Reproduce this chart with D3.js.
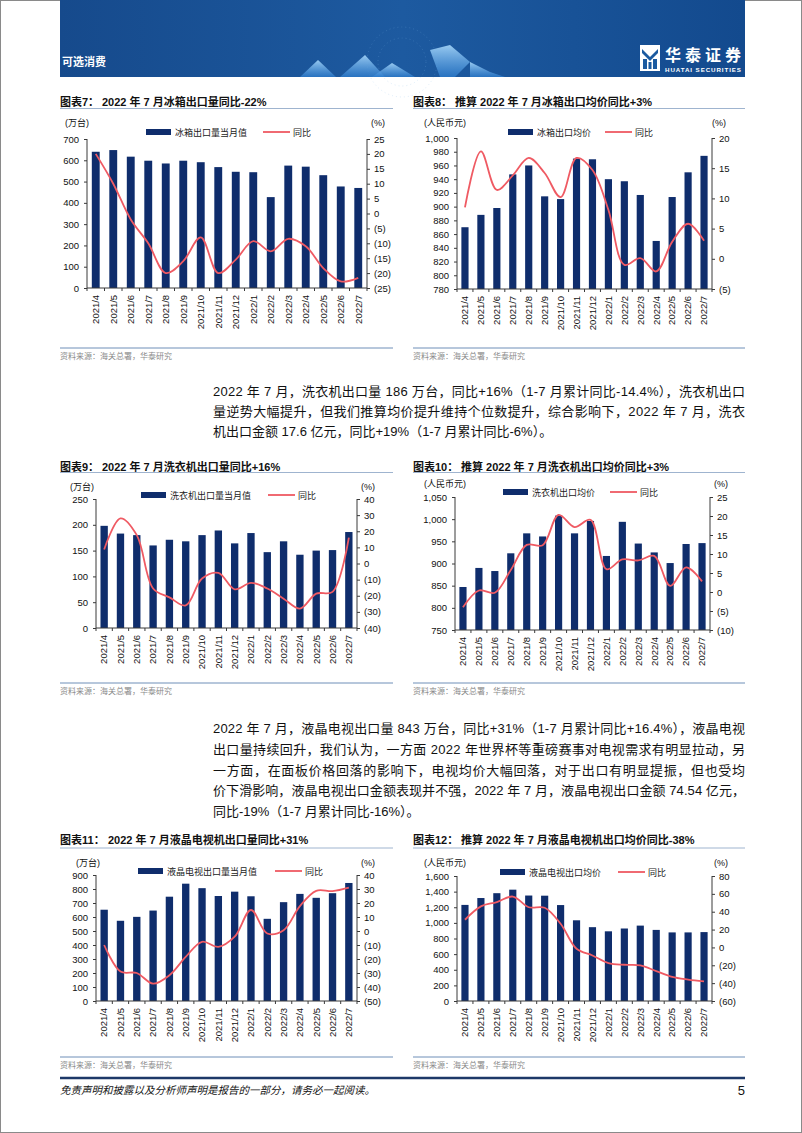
<!DOCTYPE html>
<html><head><meta charset="utf-8">
<script src="https://cdn.jsdelivr.net/npm/d3@7"></script>
<style>body{margin:0;background:#fff}svg{display:block}</style>
</head><body><svg id="page" width="802" height="1133"></svg>
<script>
// ---------------- DATA ----------------
const months = ["2021/4","2021/5","2021/6","2021/7","2021/8","2021/9","2021/10","2021/11","2021/12","2022/1","2022/2","2022/3","2022/4","2022/5","2022/6","2022/7"];

const fridgeVolume    = [640, 648, 617, 598, 585, 598, 591, 568, 546, 544, 427, 575, 570, 530, 477, 470];
const fridgeVolumeYoY = [20, 10, -2, -10, -20, -16, -8, -20, -15.5, -9.3, -12.7, -8.5, -11, -18.3, -22.8, -21.6];
const fridgePrice     = [870, 888, 898, 947, 960, 915, 911, 970, 969, 940, 937, 917, 850, 914, 950, 974];
const fridgePriceYoY  = [8.5, 17.8, 11.4, 13.8, 16.7, 14.2, 10.2, 16.7, 14.7, 8.1, -1, 0.1, -2.1, 2.8, 5.8, 3];

const washerVolume    = [198, 183, 180, 160, 171, 168, 180, 189, 164, 184, 147, 168, 142, 150, 151, 186];
const washerVolumeYoY = [8.7, 28, 17.6, -15.5, -21, -26, -9.3, -5.8, -16, -12, -15.5, -21.8, -28, -18.7, -17.6, 16];
const washerPrice     = [847, 890, 883, 923, 968, 961, 1008, 968, 996, 917, 994, 945, 925, 901, 944, 946];
const washerPriceYoY  = [-4, 0.4, -0.2, 5.8, 12.4, 12.3, 20.3, 17.1, 19, 6, 8.6, 8.3, 9.5, 1.6, 6.5, 2.8];

const tvVolume        = [652, 573, 601, 646, 745, 838, 806, 750, 781, 748, 587, 706, 765, 737, 770, 843];
const tvVolumeYoY     = [-10, -29, -30, -37.6, -31.6, -18.5, -7.7, -11.3, -4.1, 15, -1.8, 0.6, 17.8, 28.7, 28.5, 31];
const tvPrice         = [1230, 1318, 1380, 1425, 1350, 1348, 1228, 1033, 945, 892, 928, 965, 910, 878, 878, 882];
const tvPriceYoY      = [31, 46, 50.8, 57, 45, 44.4, 26.5, -1.5, -9, -17.5, -19.4, -20, -26.5, -33, -36, -38];

const fridgeVolTicks   = [0,100,200,300,400,500,600,700];
const fridgeVolPct     = [-25,-20,-15,-10,-5,0,5,10,15,20,25];
const fridgePriceTicks = [780,800,820,840,860,880,900,920,940,960,980,1000];
const fridgePricePct   = [-5,0,5,10,15,20];
const washerVolTicks   = [0,50,100,150,200,250];
const washerVolPct     = [-40,-30,-20,-10,0,10,20,30,40];
const washerPriceTicks = [750,800,850,900,950,1000,1050];
const washerPricePct   = [-10,-5,0,5,10,15,20,25];
const tvVolTicks       = [0,100,200,300,400,500,600,700,800,900];
const tvVolPct         = [-50,-40,-30,-20,-10,0,10,20,30,40];
const tvPriceTicks     = [0,200,400,600,800,1000,1200,1400,1600];
const tvPricePct       = [-60,-40,-20,0,20,40,60,80];

const para1 = [
 "2022 年 7 月，洗衣机出口量 186 万台，同比+16%（1-7 月累计同比-14.4%），洗衣机出口",
 "量逆势大幅提升，但我们推算均价提升维持个位数提升，综合影响下，2022 年 7 月，洗衣",
 "机出口金额 17.6 亿元，同比+19%（1-7 月累计同比-6%）。"
];
const para2 = [
 "2022 年 7 月，液晶电视出口量 843 万台，同比+31%（1-7 月累计同比+16.4%），液晶电视",
 "出口量持续回升，我们认为，一方面 2022 年世界杯等重磅赛事对电视需求有明显拉动，另",
 "一方面，在面板价格回落的影响下，电视均价大幅回落，对于出口有明显提振，但也受均",
 "价下滑影响，液晶电视出口金额表现并不强，2022 年 7 月，液晶电视出口金额 74.54 亿元，",
 "同比-19%（1-7 月累计同比-16%）。"
];

// ---------------- STYLE ----------------
const BAR = "#0f2d6c", LINE = "#ef5a63", AX = "#3a3a3a";
const LATIN = "'Liberation Sans', Arial, 'Noto Sans CJK SC', sans-serif";
const svg = d3.select("#page");

// page border
svg.append("rect").attr("x",0.5).attr("y",0.5).attr("width",801).attr("height",1132)
  .attr("fill","#fff").attr("stroke","#8a8a8a");

// ---------------- HEADER ----------------
const defs = svg.append("defs");
const g1 = defs.append("linearGradient").attr("id","hdr").attr("x1",0).attr("x2",1).attr("y1",0).attr("y2",0);
g1.append("stop").attr("offset","0%").attr("stop-color","#164a8c");
g1.append("stop").attr("offset","50%").attr("stop-color","#1d5aa0");
g1.append("stop").attr("offset","100%").attr("stop-color","#134a8e");
const g2 = defs.append("linearGradient").attr("id","tri").attr("x1",0).attr("x2",0).attr("y1",0).attr("y2",1);
g2.append("stop").attr("offset","0%").attr("stop-color","#9fd0f5").attr("stop-opacity",0.95);
g2.append("stop").attr("offset","100%").attr("stop-color","#2f7fd0").attr("stop-opacity",0.7);
const hdr = svg.append("g");
hdr.append("rect").attr("x",60).attr("y",0).attr("width",685).attr("height",77).attr("fill","url(#hdr)");
hdr.append("circle").attr("cx",402).attr("cy",62).attr("r",35).attr("fill","none").attr("stroke","#7fb6e6").attr("stroke-opacity",0.25).attr("stroke-dasharray","1 3");
hdr.append("circle").attr("cx",402).attr("cy",62).attr("r",24).attr("fill","none").attr("stroke","#7fb6e6").attr("stroke-opacity",0.25).attr("stroke-dasharray","1 3");
const tris = [
  [[300,77],[318,60],[336,77]],
  [[340,77],[365,55],[385,77]],
  [[372,77],[392,63],[415,77]],
  [[430,50],[450,45],[470,62],[455,77],[440,77]],
  [[470,62],[490,72],[505,77],[470,77]]
];
hdr.selectAll("polygon.t").data(tris).join("polygon").attr("class","t")
  .attr("points",d=>d.map(p=>p.join(",")).join(" ")).attr("fill","url(#tri)");
hdr.append("text").attr("x",62).attr("y",66).attr("fill","#fff").attr("font-size",11).attr("font-weight","bold")
  .attr("font-family","'Noto Sans CJK SC'").text("可选消费");
// logo
const lg = hdr.append("g").attr("transform","translate(640,45)");
lg.append("rect").attr("x",0).attr("y",0).attr("width",20).attr("height",26).attr("fill","#fff");
lg.append("path").attr("d","M2 4 L10 12 L18 4 L18 8 L10 16 L2 8 Z M3 14 L7 14 L7 24 L3 24 Z M8.5 17 L11.5 17 L11.5 24 L8.5 24 Z M13 14 L17 14 L17 24 L13 24 Z").attr("fill","#1b5aa0");
hdr.append("text").attr("x",665).attr("y",61).attr("fill","#fff").attr("font-size",16).attr("font-weight","bold")
  .attr("font-family","'Noto Sans CJK SC'").attr("textLength",76).text("华泰证券");
hdr.append("text").attr("x",665).attr("y",72).attr("fill","#fff").attr("font-size",6.2).attr("font-weight","bold")
  .attr("font-family",LATIN).attr("textLength",76).text("HUATAI SECURITIES");

// ---------------- CHART FUNCTION ----------------
function fmtLeft(v){ return d3.format(",")(v); }
function fmtRight(v){ return v < 0 ? "(" + Math.abs(v) + ")" : String(v); }

function drawChart(c){
  const g = svg.append("g");
  // title
  const t = g.append("text").attr("x",c.colX0).attr("y",c.titleY).attr("font-size",11).attr("font-weight","bold")
     .attr("font-family",LATIN).attr("fill","#111");
  t.append("tspan").text(c.titleHead);
  t.append("tspan").attr("x",c.colX0 + c.headW).text(c.titleBody);
  g.append("line").attr("x1",c.colX0).attr("x2",c.colX1).attr("y1",c.titleLineY).attr("y2",c.titleLineY)
    .attr("stroke","#9fb4cf").attr("stroke-width",1);

  const x = d3.scaleBand().domain(months).range([c.left,c.right]).paddingInner(0.55).paddingOuter(0.275);
  const xb = d3.scaleBand().domain(months).range([c.left,c.right]);
  const yL = d3.scaleLinear().domain(c.leftDomain).range([c.bottom,c.top]);
  const yR = d3.scaleLinear().domain(c.rightDomain).range([c.bottom,c.top]);

  // bars
  g.selectAll("rect.bar").data(c.bars).join("rect").attr("class","bar")
    .attr("x",(d,i)=>x(months[i])).attr("width",x.bandwidth())
    .attr("y",d=>yL(d)).attr("height",d=>yL(c.leftDomain[0])-yL(d)).attr("fill",BAR);

  // line
  const line = d3.line().x((d,i)=>xb(months[i])+xb.bandwidth()/2).y(d=>yR(d)).curve(d3.curveCatmullRom.alpha(0.5));
  g.append("path").datum(c.line).attr("d",line).attr("fill","none").attr("stroke",LINE).attr("stroke-width",1.8);

  // left axis
  const aL = g.append("g").attr("transform",`translate(${c.left},0)`)
    .call(d3.axisLeft(yL).tickValues(c.leftTicks).tickFormat(fmtLeft).tickSize(3).tickPadding(5));
  // right axis
  const aR = g.append("g").attr("transform",`translate(${c.right},0)`)
    .call(d3.axisRight(yR).tickValues(c.rightTicks).tickFormat(fmtRight).tickSize(3).tickPadding(4));
  // bottom axis
  const aB = g.append("g").attr("transform",`translate(0,${c.bottom})`)
    .call(d3.axisBottom(xb).tickSize(0).tickPadding(4));
  aB.selectAll(".tick text").attr("transform","rotate(-90)").attr("text-anchor","end")
    .attr("dx","-0.3em").attr("dy","-0.6em").attr("x",0).attr("y",0)
    .attr("transform","translate(0,4) rotate(-90)").attr("dy","0.35em");
  // category separator ticks
  g.selectAll("line.sep").data(d3.range(months.length+1)).join("line").attr("class","sep")
    .attr("x1",i=>c.left + i*xb.step()).attr("x2",i=>c.left + i*xb.step())
    .attr("y1",c.bottom).attr("y2",c.bottom+3).attr("stroke",AX);
  [aL,aR,aB].forEach(a=>{
    a.selectAll("path.domain").attr("stroke",AX);
    a.selectAll("line").attr("stroke",AX);
    a.selectAll("text").attr("font-family",LATIN).attr("font-size",9.5).attr("fill","#111");
  });
  aL.select("path.domain").attr("d",`M0,${c.top}V${c.bottom}`);
  aR.select("path.domain").attr("d",`M0,${c.top}V${c.bottom}`);
  aB.select("path.domain").attr("d",`M${c.left},0H${c.right}`);

  // units
  g.append("text").attr("x",c.unitX).attr("y",c.unitY).attr("font-size",9).attr("font-family",LATIN)
    .attr("fill","#111").text(c.unit);
  g.append("text").attr("x",c.pctX).attr("y",c.unitY).attr("font-size",9).attr("font-family",LATIN)
    .attr("fill","#111").text("(%)");
  // legend
  g.append("rect").attr("x",c.legX).attr("y",c.legY-3).attr("width",25).attr("height",6).attr("fill",BAR);
  g.append("text").attr("x",c.legX+29).attr("y",c.legY+3.5).attr("font-size",9).attr("font-family","'Noto Sans CJK SC'")
    .attr("fill","#222").text(c.barName);
  g.append("line").attr("x1",c.legLX).attr("x2",c.legLX+27).attr("y1",c.legY).attr("y2",c.legY)
    .attr("stroke",LINE).attr("stroke-width",1.8);
  g.append("text").attr("x",c.legLX+30).attr("y",c.legY+3.5).attr("font-size",9).attr("font-family","'Noto Sans CJK SC'")
    .attr("fill","#222").text("同比");

  // source
  g.append("line").attr("x1",c.colX0).attr("x2",c.colX1).attr("y1",c.srcLineY).attr("y2",c.srcLineY)
    .attr("stroke","#6f8fb8").attr("stroke-width",1);
  g.append("text").attr("x",c.colX0).attr("y",c.srcLineY+11).attr("font-size",8).attr("font-family","'Noto Sans CJK SC'")
    .attr("fill","#8a8a8a").text("资料来源：海关总署，华泰研究");
}

const L = {colX0:60, colX1:393}, R = {colX0:413, colX1:745};

drawChart(Object.assign({}, L, {
  titleHead:"图表7：", headW:42, titleBody:"2022 年 7 月冰箱出口量同比-22%", titleY:106, titleLineY:108.5,
  left:87, right:367, top:139, bottom:288,
  leftDomain:[0,700], leftTicks:fridgeVolTicks, rightDomain:[-25,25], rightTicks:fridgeVolPct,
  bars:fridgeVolume, line:fridgeVolumeYoY, unit:"(万台)", unitX:65, pctX:371, unitY:126,
  legX:146, legY:132, legLX:263, barName:"冰箱出口量当月值", srcLineY:348
}));
drawChart(Object.assign({}, R, {
  titleHead:"图表8：", headW:42, titleBody:"推算 2022 年 7 月冰箱出口均价同比+3%", titleY:106, titleLineY:108.5,
  left:457, right:712, top:138, bottom:289,
  leftDomain:[780,1000], leftTicks:fridgePriceTicks, rightDomain:[-5,20], rightTicks:fridgePricePct,
  bars:fridgePrice, line:fridgePriceYoY, unit:"(人民币元)", unitX:424, pctX:712, unitY:126,
  legX:508, legY:132, legLX:605, barName:"冰箱出口均价", srcLineY:348
}));
drawChart(Object.assign({}, L, {
  titleHead:"图表9：", headW:42, titleBody:"2022 年 7 月洗衣机出口量同比+16%", titleY:471, titleLineY:472.5,
  left:96, right:357, top:499, bottom:628,
  leftDomain:[0,250], leftTicks:washerVolTicks, rightDomain:[-40,40], rightTicks:washerVolPct,
  bars:washerVolume, line:washerVolumeYoY, unit:"(万台)", unitX:70, pctX:361, unitY:490,
  legX:141, legY:495, legLX:268, barName:"洗衣机出口量当月值", srcLineY:683
}));
drawChart(Object.assign({}, R, {
  titleHead:"图表10：", headW:48, titleBody:"推算 2022 年 7 月洗衣机出口均价同比+3%", titleY:471, titleLineY:472.5,
  left:455, right:710, top:497, bottom:630,
  leftDomain:[750,1050], leftTicks:washerPriceTicks, rightDomain:[-10,25], rightTicks:washerPricePct,
  bars:washerPrice, line:washerPriceYoY, unit:"(人民币元)", unitX:424, pctX:714, unitY:487,
  legX:503, legY:492, legLX:610, barName:"洗衣机出口均价", srcLineY:683
}));
drawChart(Object.assign({}, L, {
  titleHead:"图表11：", headW:48, titleBody:"2022 年 7 月液晶电视机出口量同比+31%", titleY:844, titleLineY:848,
  left:96, right:357, top:875, bottom:1001,
  leftDomain:[0,900], leftTicks:tvVolTicks, rightDomain:[-50,40], rightTicks:tvVolPct,
  bars:tvVolume, line:tvVolumeYoY, unit:"(万台)", unitX:76, pctX:361, unitY:866,
  legX:138, legY:871, legLX:275, barName:"液晶电视出口量当月值", srcLineY:1057
}));
drawChart(Object.assign({}, R, {
  titleHead:"图表12：", headW:48, titleBody:"推算 2022 年 7 月液晶电视机出口均价同比-38%", titleY:844, titleLineY:848,
  left:457, right:712, top:876, bottom:1001,
  leftDomain:[0,1600], leftTicks:tvPriceTicks, rightDomain:[-60,80], rightTicks:tvPricePct,
  bars:tvPrice, line:tvPriceYoY, unit:"(人民币元)", unitX:424, pctX:714, unitY:866,
  legX:500, legY:872, legLX:618, barName:"液晶电视出口均价", srcLineY:1057
}));

// ---------------- BODY TEXT ----------------
function para(lines, y0, lh){
  lines.forEach((s,i)=>{
    const t = svg.append("text").attr("x",213).attr("y",y0+i*lh).attr("font-size",13)
      .attr("font-family",LATIN).attr("fill","#111").text(s);
    if(i < lines.length-1) t.attr("textLength",532).attr("lengthAdjust","spacing");
  });
}
para(para1, 396, 20);
para(para2, 733, 20.8);

// ---------------- FOOTER ----------------
svg.append("line").attr("x1",60).attr("x2",745).attr("y1",1078).attr("y2",1078).attr("stroke","#1d3868").attr("stroke-width",2.5);
svg.append("text").attr("x",60).attr("y",1094).attr("font-size",10.5).attr("font-style","italic")
  .attr("font-family","'Noto Sans CJK SC'").attr("fill","#111").text("免责声明和披露以及分析师声明是报告的一部分，请务必一起阅读。");
svg.append("text").attr("x",745).attr("y",1095).attr("text-anchor","end").attr("font-size",13)
  .attr("font-family",LATIN).attr("fill","#111").text("5");
</script></body></html>
